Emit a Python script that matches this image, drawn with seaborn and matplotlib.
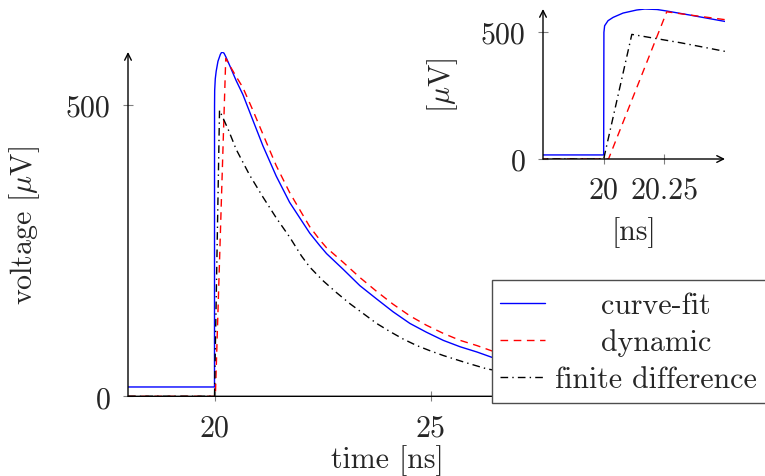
import matplotlib
matplotlib.use('Agg')
import matplotlib.pyplot as plt
from matplotlib.lines import Line2D
from matplotlib.patches import Rectangle
import seaborn as sns

# values (time in ns, voltage in uV)
t_fit = [18.0, 20.0, 20.001, 20.004, 20.018, 20.039, 20.08, 20.136, 20.17, 20.22,
         20.26, 20.35, 20.5, 20.656, 20.887, 21.119, 21.427, 21.736, 22.044, 22.203,
         22.43, 22.59, 22.975, 23.36, 23.75, 24.13, 24.52, 24.9, 25.29, 25.68,
         26.07, 26.41, 27.0, 28.0]
v_fit = [16, 16, 499, 525, 545, 558, 575, 587, 591, 589,
         583, 568, 542, 518, 474, 430, 378, 333, 298, 280,
         259, 245, 218, 190, 167, 145, 125, 110, 96, 85,
         76, 67, 57, 45]

t_dyn = [18.0, 20.02, 20.26, 20.35, 20.5, 20.656, 20.887, 21.119, 21.427, 21.736,
         22.044, 22.203, 22.43, 22.59, 22.975, 23.36, 23.75, 24.13, 24.52, 24.9,
         25.29, 25.68, 26.07, 26.41, 27.0, 28.0]
v_dyn = [0, 0, 580, 568, 549, 530, 491, 450, 396, 350,
         311, 291, 269, 255, 230, 204, 180, 158, 138, 122,
         108, 96, 87, 78, 67, 54]

t_fd = [18.0, 20.0, 20.116, 20.317, 20.42, 20.5, 20.81, 21.12, 21.43, 21.74,
        22.01, 22.2, 22.5, 22.82, 23.13, 23.44, 23.75, 24.06, 24.37, 24.68,
        24.99, 25.29, 25.8, 26.3, 27.0, 28.0]
v_fd = [0, 0, 491, 458, 439, 424, 380, 342, 306, 273,
        241, 222, 199, 178, 159, 142, 125, 111, 98, 87,
        78, 70, 58, 47, 38, 29]

labels = ['curve-fit', 'dynamic', 'finite difference']
main_xticks = [20, 25]
inset_xticks = [20, 20.25]
yticks = [0, 500]

sns.set_style('white')
plt.rcParams['font.family'] = ['cmr10']
plt.rcParams['mathtext.fontset'] = 'cm'
plt.rcParams['axes.formatter.use_mathtext'] = True

FS = 21.5
styles = [
    dict(color='#0000ff', lw=1.0, ls='-'),
    dict(color='#ff0000', lw=1.0, ls=(0, (5.5, 4))),
    dict(color='black', lw=1.0, ls=(0, (5.5, 3, 1, 3))),
]
series = [(t_fit, v_fit), (t_dyn, v_dyn), (t_fd, v_fd)]

W, H = 765, 477
fig = plt.figure(figsize=(W / 100, H / 100), dpi=100)


def box(left, right, top, bottom):
    return [left / W, 1 - bottom / H, (right - left) / W, (bottom - top) / H]


def style_axes(ax, xticks, xlim, ylim):
    for (t, v), st in zip(series, styles):
        sns.lineplot(x=t, y=v, ax=ax, estimator=None, sort=False, zorder=3, **st)
    ax.set_xlim(*xlim)
    ax.set_ylim(*ylim)
    ax.set_xticks(xticks)
    ax.set_xticklabels([f'{x:g}' for x in xticks])
    ax.set_yticks(yticks)
    ax.set_yticklabels([str(y) for y in yticks])
    for s in ax.spines.values():
        s.set_visible(False)
    arrow = dict(arrowstyle='->', lw=1.0, color='black', shrinkA=0, shrinkB=0,
                 mutation_scale=12)
    ax.annotate('', xy=(1, 0), xytext=(0, 0), xycoords='axes fraction',
                arrowprops=arrow, annotation_clip=False)
    ax.annotate('', xy=(0, 1), xytext=(0, 0), xycoords='axes fraction',
                arrowprops=arrow, annotation_clip=False)
    ax.tick_params(direction='inout', length=7, width=0.8, color='0.5',
                   pad=9, labelsize=FS, bottom=True, left=True)
    ax.set_facecolor('none')


# main axes
ax = fig.add_axes(box(128, 647, 53, 397.3))
style_axes(ax, main_xticks, (18, 30), (0, 591))
ax.set_xlabel('time [ns]', fontsize=FS, labelpad=2.5)
ax.set_ylabel(r'voltage [$\mu$V]', fontsize=FS, labelpad=17)

# inset
axin = fig.add_axes(box(543, 725, 10, 160))
style_axes(axin, inset_xticks, (19.75, 20.5), (0, 591))
axin.set_xlabel('[ns]', fontsize=FS, labelpad=9)
axin.set_ylabel(r'[$\mu$V]', fontsize=FS, labelpad=15)

# legend, drawn in figure pixels
fig.add_artist(Rectangle((491.7 / W, 1 - 404 / H), (770 - 491.7) / W, (404 - 280.7) / H,
                         transform=fig.transFigure, facecolor='white',
                         edgecolor='0.3', lw=1.0, zorder=5))
for i, (lab, st) in enumerate(zip(labels, styles)):
    y = 304 + i * 37
    fig.add_artist(Line2D([500 / W, 545 / W], [1 - y / H, 1 - y / H],
                          transform=fig.transFigure, zorder=6, **st))
    fig.text(656 / W, 1 - (y + 10) / H, lab, ha='center', va='baseline',
             fontsize=FS, zorder=6)

fig.savefig('out.png', dpi=100)
